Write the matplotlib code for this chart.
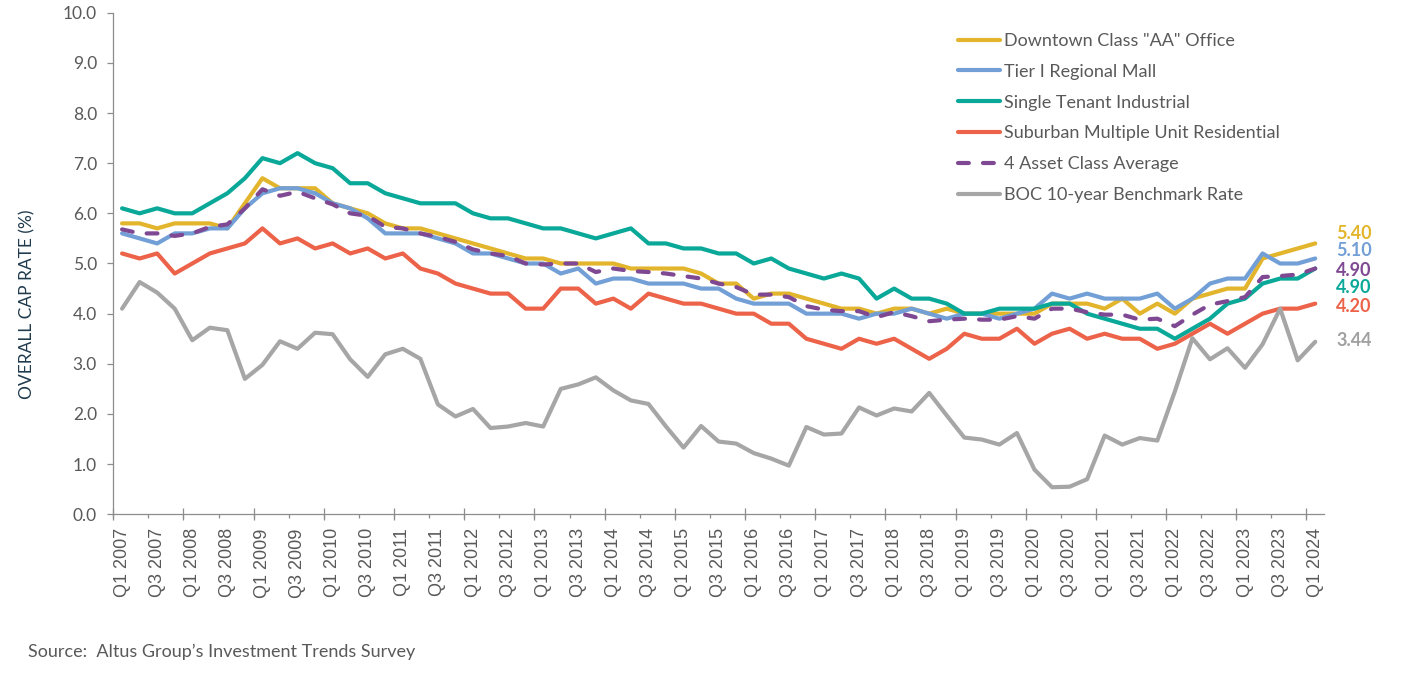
import matplotlib
matplotlib.use("Agg")
import matplotlib.pyplot as plt
import numpy as np

# ---------------- data ----------------
years = list(range(2007, 2025))
quarters = [f"Q{q} {y}" for y in years for q in (1, 2, 3, 4)][:69]

office = [5.8, 5.8, 5.7, 5.8, 5.8, 5.8, 5.7, 6.2, 6.7, 6.5, 6.5, 6.5, 6.2, 6.1, 6.0, 5.8, 5.7, 5.7,
          5.6, 5.5, 5.4, 5.3, 5.2, 5.1, 5.1, 5.0, 5.0, 5.0, 5.0, 4.9, 4.9, 4.9, 4.9, 4.8, 4.6,
          4.6, 4.3, 4.4, 4.4, 4.3, 4.2, 4.1, 4.1, 4.0, 4.1, 4.1, 4.0, 4.1, 4.0, 4.0, 4.0, 4.0,
          4.0, 4.2, 4.2, 4.2, 4.1, 4.3, 4.0, 4.2, 4.0, 4.3, 4.4, 4.5, 4.5, 5.1, 5.2, 5.3, 5.4]
mall = [5.6, 5.5, 5.4, 5.6, 5.6, 5.7, 5.7, 6.1, 6.4, 6.5, 6.5, 6.4, 6.2, 6.1, 5.9, 5.6, 5.6, 5.6,
        5.5, 5.4, 5.2, 5.2, 5.1, 5.0, 5.0, 4.8, 4.9, 4.6, 4.7, 4.7, 4.6, 4.6, 4.6, 4.5, 4.5,
        4.3, 4.2, 4.2, 4.2, 4.0, 4.0, 4.0, 3.9, 4.0, 4.0, 4.1, 4.0, 3.9, 4.0, 4.0, 3.9, 4.0,
        4.1, 4.4, 4.3, 4.4, 4.3, 4.3, 4.3, 4.4, 4.1, 4.3, 4.6, 4.7, 4.7, 5.2, 5.0, 5.0, 5.1]
industrial = [6.1, 6.0, 6.1, 6.0, 6.0, 6.2, 6.4, 6.7, 7.1, 7.0, 7.2, 7.0, 6.9, 6.6, 6.6, 6.4, 6.3, 6.2,
              6.2, 6.2, 6.0, 5.9, 5.9, 5.8, 5.7, 5.7, 5.6, 5.5, 5.6, 5.7, 5.4, 5.4, 5.3, 5.3, 5.2,
              5.2, 5.0, 5.1, 4.9, 4.8, 4.7, 4.8, 4.7, 4.3, 4.5, 4.3, 4.3, 4.2, 4.0, 4.0, 4.1, 4.1,
              4.1, 4.2, 4.2, 4.0, 3.9, 3.8, 3.7, 3.7, 3.5, 3.7, 3.9, 4.2, 4.3, 4.6, 4.7, 4.7, 4.9]
residential = [5.2, 5.1, 5.2, 4.8, 5.0, 5.2, 5.3, 5.4, 5.7, 5.4, 5.5, 5.3, 5.4, 5.2, 5.3, 5.1, 5.2, 4.9,
               4.8, 4.6, 4.5, 4.4, 4.4, 4.1, 4.1, 4.5, 4.5, 4.2, 4.3, 4.1, 4.4, 4.3, 4.2, 4.2, 4.1,
               4.0, 4.0, 3.8, 3.8, 3.5, 3.4, 3.3, 3.5, 3.4, 3.5, 3.3, 3.1, 3.3, 3.6, 3.5, 3.5, 3.7,
               3.4, 3.6, 3.7, 3.5, 3.6, 3.5, 3.5, 3.3, 3.4, 3.6, 3.8, 3.6, 3.8, 4.0, 4.1, 4.1, 4.2]
average = [5.68, 5.60, 5.60, 5.55, 5.60, 5.73, 5.78, 6.10, 6.48, 6.35, 6.43, 6.30, 6.18, 6.00, 5.95, 5.73, 5.70, 5.60,
           5.53, 5.43, 5.28, 5.20, 5.15, 5.00, 4.98, 5.00, 5.00, 4.83, 4.90, 4.85, 4.83, 4.80, 4.75, 4.70, 4.60,
           4.53, 4.38, 4.38, 4.33, 4.15, 4.08, 4.05, 4.05, 3.93, 4.03, 3.95, 3.85, 3.88, 3.90, 3.88, 3.88, 3.95,
           3.90, 4.10, 4.10, 4.03, 3.98, 3.98, 3.88, 3.90, 3.75, 3.98, 4.18, 4.25, 4.33, 4.73, 4.75, 4.78, 4.90]
boc = [4.10, 4.63, 4.42, 4.10, 3.47, 3.72, 3.67, 2.70, 2.98, 3.45, 3.30, 3.62, 3.59, 3.09, 2.74, 3.19, 3.30, 3.10,
       2.19, 1.95, 2.10, 1.72, 1.75, 1.82, 1.75, 2.50, 2.59, 2.73, 2.47, 2.27, 2.20, 1.75, 1.33, 1.76, 1.45,
       1.41, 1.22, 1.11, 0.97, 1.74, 1.59, 1.61, 2.13, 1.97, 2.11, 2.05, 2.42, 1.97, 1.53, 1.49, 1.39, 1.62,
       0.89, 0.54, 0.55, 0.70, 1.57, 1.39, 1.52, 1.47, 2.45, 3.51, 3.09, 3.31, 2.92, 3.39, 4.10, 3.07, 3.44]

series_names = ['Downtown Class "AA" Office', "Tier I Regional Mall", "Single Tenant Industrial",
                "Suburban Multiple Unit Residential", "4 Asset Class Average", "BOC 10-year Benchmark Rate"]
series_values = [office, mall, industrial, residential, average, boc]
end_labels = ["5.40", "5.10", "4.90", "4.90", "4.20", "3.44"]

# ---------------- styles / layout ----------------
colors = ["#E2B52C", "#729FD6", "#09A898", "#EC634A", "#7E4892", "#A6A6A6"]
label_colors = ["#E2B52C", "#729FD6", "#7E4892", "#09A898", "#EC634A", "#A0A0A0"]
label_ypos = [5.60, 5.25, 4.87, 4.52, 4.15, 3.47]  # label positions (layout)

GRAY_TXT = "#595959"
AXIS_COL = "#8C8C8C"

fig = plt.figure(figsize=(14.27, 6.91), dpi=100)
ax = fig.add_axes([113.3 / 1427, 1 - 514.3 / 691, (1324 - 113.3) / 1427, (514.3 - 12.7) / 691])

x = np.arange(len(quarters))
for i, (name, vals) in enumerate(zip(series_names, series_values)):
    if i == 4:
        ax.plot(x, vals, color=colors[i], lw=3, linestyle=(0, (2.6, 3.4)),
                dash_capstyle="round", dash_joinstyle="round", label=name, zorder=3 + i)
    else:
        ax.plot(x, vals, color=colors[i], lw=3, solid_joinstyle="round",
                solid_capstyle="round", label=name, zorder=3 + i)

ax.set_xlim(-0.5, len(quarters) - 0.5)
ax.set_ylim(0, 10)

for s in ("top", "right"):
    ax.spines[s].set_visible(False)
for s in ("left", "bottom"):
    ax.spines[s].set_color(AXIS_COL)
    ax.spines[s].set_linewidth(0.9)

# y ticks
yt = np.arange(0, 11)
ax.set_yticks(yt)
ax.set_yticklabels([f"{v:.1f}" for v in yt], fontfamily="Lato", fontsize=12.5, color=GRAY_TXT)
ax.tick_params(axis="y", length=4.3, width=0.9, color=AXIS_COL, pad=7.5)

# x tick labels (every second quarter) and tick marks at category boundaries
ax.set_xticks(x[::2])
ax.set_xticklabels(quarters[::2], rotation=90, fontfamily="Liberation Sans",
                   fontsize=13, color=GRAY_TXT)
ax.tick_params(axis="x", which="major", length=0, pad=10)
ax.set_xticks(np.arange(-0.5, len(quarters), 2), minor=True)
ax.tick_params(axis="x", which="minor", length=3, width=0.9, color=AXIS_COL, direction="out")

sec = ax.secondary_xaxis("bottom")
sec.set_xticks(np.arange(-0.5, len(quarters), 4))
sec.set_xticklabels([])
sec.tick_params(axis="x", length=8, width=0.9, color=AXIS_COL, direction="inout")
sec.spines["bottom"].set_visible(False)

# legend
leg = ax.legend(loc="upper left", bbox_to_anchor=(958 / 1427, 1 - 33 / 691),
                bbox_transform=fig.transFigure, frameon=False,
                prop={"family": "Lato", "size": 13}, handlelength=2.3,
                handletextpad=0.25, labelspacing=0.82, borderpad=0, borderaxespad=0)
for t in leg.get_texts():
    t.set_color(GRAY_TXT)

# end labels
for k in range(len(end_labels)):
    ax.annotate(end_labels[k], xy=(x[-1], label_ypos[k]), xytext=(15, 0),
                textcoords="offset points", va="center", ha="left",
                fontfamily="Lato", fontweight="bold", fontsize=13,
                color=label_colors[k], annotation_clip=False)

# axis title and source
fig.text(27 / 1427, 1 - 304 / 691, "OVERALL CAP RATE (%)", rotation=90, va="center", ha="center",
         fontfamily="Lato", fontsize=12.5, color="#1F3A4D")
fig.text(28 / 1427, 1 - 652 / 691, "Source:  Altus Group\u2019s Investment Trends Survey",
         va="center", ha="left", fontfamily="Lato", fontsize=13, color=GRAY_TXT)

fig.savefig("out.png", dpi=100)
